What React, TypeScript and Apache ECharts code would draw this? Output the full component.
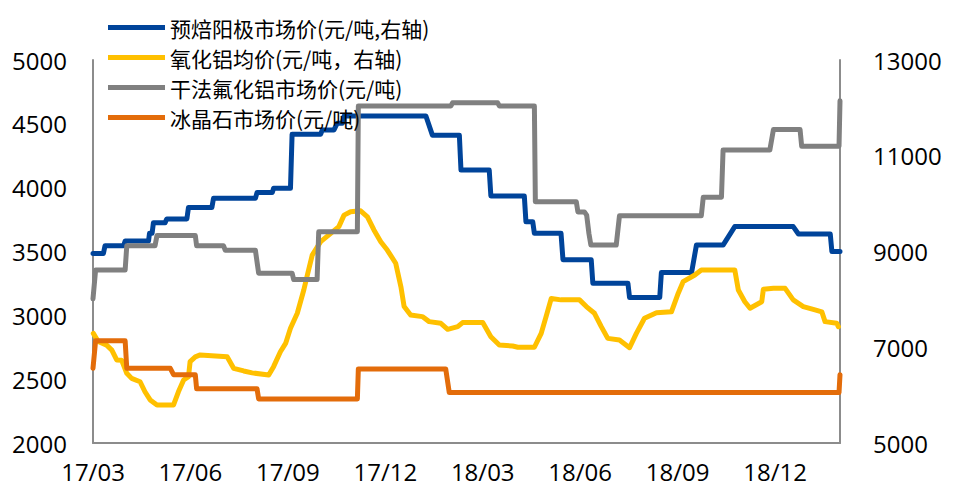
import React, { useEffect, useRef } from "react";
import * as echarts from "echarts";

// x = months since 2017/03
const xTickLabels = ["17/03", "17/06", "17/09", "17/12", "18/03", "18/06", "18/09", "18/12"];
const seriesNames = [
  "预焙阳极市场价(元/吨,右轴)",
  "氧化铝均价(元/吨，右轴)",
  "干法氟化铝市场价(元/吨)",
  "冰晶石市场价(元/吨)",
];

const anodePrice: [number, number][] = [
  [0, 8960], [0.32, 8960], [0.37, 9120], [0.94, 9120], [0.99, 9220], [1.71, 9220], [1.74, 9380],
  [1.82, 9380], [1.86, 9600], [2.22, 9600], [2.27, 9680], [2.89, 9680], [2.94, 9920], [3.66, 9920],
  [3.71, 10110], [5.0, 10110], [5.05, 10230], [5.52, 10230], [5.56, 10320], [6.08, 10320],
  [6.13, 11450], [7.01, 11450], [7.06, 11540], [7.42, 11540], [7.52, 11680], [7.68, 11680],
  [7.73, 11830], [10.25, 11830], [10.45, 11430], [11.28, 11430], [11.33, 10700], [12.2, 10700],
  [12.25, 10160], [13.28, 10160], [13.33, 9620], [13.54, 9620], [13.59, 9380], [14.41, 9380],
  [14.47, 8830], [15.34, 8830], [15.39, 8335], [16.47, 8335], [16.52, 8040], [17.45, 8040],
  [17.5, 8560], [18.43, 8560], [18.58, 9135], [19.4, 9135], [19.76, 9520], [21.56, 9520],
  [21.72, 9365], [22.7, 9365], [22.75, 9000], [23, 9000],
];

const aluminaPrice: [number, number][] = [
  [0.01, 7290], [0.16, 7120], [0.42, 7045], [0.58, 6940], [0.73, 6735], [0.88, 6730], [1.04, 6455],
  [1.19, 6350], [1.45, 6280], [1.6, 6070], [1.76, 5900], [1.97, 5795], [2.48, 5795], [2.63, 6070],
  [2.79, 6315], [2.94, 6385], [2.99, 6700], [3.15, 6800], [3.3, 6840], [4.13, 6800], [4.33, 6560],
  [4.64, 6505], [4.9, 6465], [5.41, 6420], [5.56, 6595], [5.77, 6905], [5.93, 7080], [6.08, 7395],
  [6.29, 7710], [6.49, 8195], [6.6, 8510], [6.75, 8925], [7.01, 9205], [7.32, 9380], [7.57, 9520],
  [7.73, 9760], [7.93, 9830], [8.24, 9850], [8.45, 9725], [8.65, 9450], [8.86, 9205], [9.06, 9030],
  [9.32, 8755], [9.48, 8265], [9.58, 7850], [9.78, 7675], [10.14, 7640], [10.35, 7535], [10.71, 7500],
  [10.92, 7375], [11.23, 7430], [11.38, 7515], [12.0, 7515], [12.25, 7220], [12.51, 7045],
  [12.92, 7025], [13.08, 7000], [13.59, 7000], [13.8, 7290], [13.95, 7640], [14.11, 8020],
  [14.41, 7990], [14.98, 7990], [15.19, 7850], [15.44, 7710], [15.65, 7430], [15.85, 7185],
  [16.21, 7150], [16.52, 6990], [16.73, 7290], [16.98, 7605], [17.35, 7720], [17.81, 7740],
  [18.02, 8130], [18.17, 8370], [18.53, 8510], [18.73, 8615], [19.76, 8615], [19.87, 8195],
  [20.07, 7950], [20.23, 7815], [20.59, 7950], [20.64, 8210], [20.95, 8230], [21.31, 8230],
  [21.56, 7990], [21.87, 7850], [22.23, 7780], [22.44, 7740], [22.54, 7535], [22.9, 7500],
  [22.95, 7430],
];

const alfPrice: [number, number][] = [
  [0, 3130], [0.08, 3355], [0.99, 3355], [1.04, 3545], [1.91, 3545], [1.97, 3625], [3.15, 3625],
  [3.19, 3545], [4.02, 3545], [4.07, 3510], [5.0, 3510], [5.1, 3330], [6.13, 3330], [6.18, 3280],
  [6.9, 3280], [6.95, 3655], [8.14, 3655], [8.17, 4640], [11.02, 4640], [11.07, 4665],
  [12.46, 4665], [12.51, 4640], [13.59, 4640], [13.62, 3890], [14.88, 3890], [14.93, 3810],
  [15.13, 3810], [15.2, 3785], [15.27, 3640], [15.33, 3550], [16.11, 3550], [16.21, 3780],
  [18.73, 3780], [18.79, 3925], [19.35, 3925], [19.4, 4295], [20.84, 4295], [20.95, 4455],
  [21.77, 4455], [21.82, 4325], [22.97, 4325], [23, 4680],
];

const cryolitePrice: [number, number][] = [
  [0, 2585], [0.08, 2800], [0.99, 2800], [1.04, 2585], [2.38, 2585], [2.48, 2535], [3.15, 2535],
  [3.19, 2425], [5.05, 2425], [5.1, 2345], [8.14, 2345], [8.17, 2580], [10.86, 2580],
  [10.97, 2395], [22.97, 2395], [23, 2535],
];

const colors = ["#00449A", "#FFC000", "#808080", "#E36C0A"];

export default function App() {
  const ref = useRef<HTMLDivElement>(null);
  useEffect(() => {
    if (!ref.current) return;
    const chart = echarts.init(ref.current, null, { renderer: "svg" });
    const mk = (i: number, data: [number, number][], yAxisIndex: number) => ({
      name: seriesNames[i],
      type: "line",
      yAxisIndex,
      data,
      showSymbol: false,
      symbol: "none",
      color: colors[i],
      lineStyle: { width: 5, color: colors[i], cap: "round", join: "round" },
    });
    const axisLabelFont = { fontSize: 24, fontFamily: "Open Sans", color: "#000" };
    chart.setOption({
      animation: false,
      backgroundColor: "#fff",
      grid: { left: 93, right: 113, top: 60, bottom: 45, containLabel: false },
      legend: {
        orient: "vertical",
        left: 103,
        top: 11,
        itemWidth: 57,
        itemHeight: 5,
        itemGap: 7,
        icon: "rect",
        textStyle: { fontSize: 21, fontFamily: "Noto Sans CJK SC", color: "#000", lineHeight: 23 },
        data: seriesNames,
      },
      xAxis: {
        type: "value",
        min: 0,
        max: 23,
        interval: 3,
        axisLine: { show: true, onZero: false, lineStyle: { color: "#8c8c8c", width: 2 } },
        axisTick: { show: false },
        splitLine: { show: false },
        axisLabel: {
          ...axisLabelFont,
          margin: 16,
          showMaxLabel: false,
          formatter: (v: number) => (v % 3 === 0 ? xTickLabels[v / 3] ?? "" : ""),
        },
      },
      yAxis: [
        {
          type: "value",
          min: 2000,
          max: 5000,
          interval: 500,
          position: "left",
          axisLine: { show: true, lineStyle: { color: "#8c8c8c", width: 2 } },
          axisTick: { show: false },
          splitLine: { show: false },
          axisLabel: { ...axisLabelFont, margin: 26, formatter: (v: number) => String(v) },
        },
        {
          type: "value",
          min: 5000,
          max: 13000,
          interval: 2000,
          position: "right",
          axisLine: { show: true, lineStyle: { color: "#8c8c8c", width: 2 } },
          axisTick: { show: false },
          splitLine: { show: false },
          axisLabel: { ...axisLabelFont, margin: 33, formatter: (v: number) => String(v) },
        },
      ],
      series: [mk(0, anodePrice, 1), mk(1, aluminaPrice, 1), mk(2, alfPrice, 0), mk(3, cryolitePrice, 0)],
    });
    return () => chart.dispose();
  }, []);
  return <div ref={ref} style={{ position: "fixed", left: 0, top: 0, width: 953, height: 488 }} />;
}
